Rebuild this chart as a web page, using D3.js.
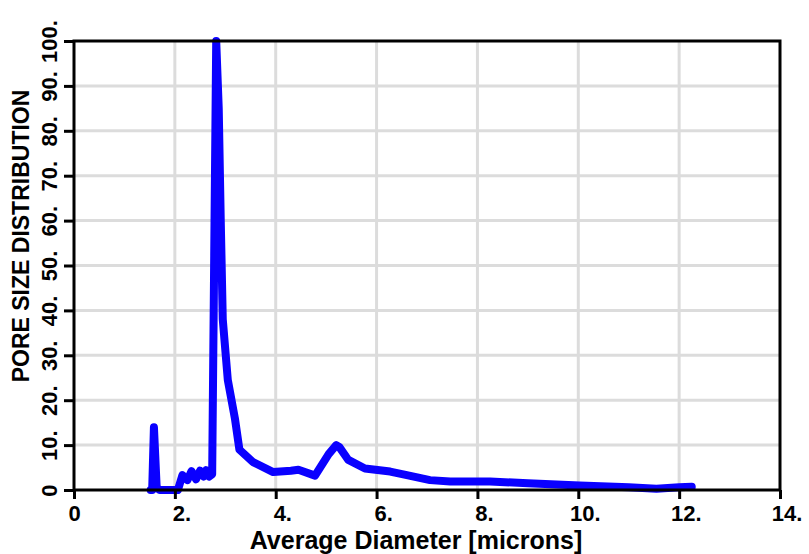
<!DOCTYPE html>
<html>
<head>
<meta charset="utf-8">
<script src="https://cdn.jsdelivr.net/npm/d3@7"></script>
<style>
  html, body { margin: 0; padding: 0; background: #fff; }
  svg text { font-family: "Liberation Sans", Arial, Helvetica, sans-serif; font-weight: bold; fill: #000; }
</style>
</head>
<body>
<svg id="chart" width="809" height="554"></svg>
<script>
// ---- data ----
const diameter = [1.52, 1.55, 1.585, 1.64, 1.70, 2.06, 2.15, 2.25, 2.33, 2.42, 2.50, 2.57, 2.62, 2.68, 2.74,
  2.82, 2.87, 2.91, 2.95, 3.05, 3.19, 3.28, 3.55, 3.95, 4.30, 4.45, 4.78, 5.05, 5.20, 5.26, 5.44, 5.77,
  6.27, 6.60, 7.06, 7.46, 8.25, 9.00, 10.03, 11.00, 11.55, 12.00, 12.25];
const distribution = [0, 0, 14, 0.5, 0, 0, 3.3, 2.2, 4.2, 2.4, 4.3, 3.0, 4.4, 3.0, 3.5,
  100, 85, 60, 38, 24.5, 16, 9, 6.2, 4.0, 4.3, 4.5, 3.2, 8, 10, 9.6, 6.7, 4.8,
  4.1, 3.3, 2.2, 1.9, 1.9, 1.5, 1.0, 0.6, 0.3, 0.6, 0.7];
const xTicks = [0, 2, 4, 6, 8, 10, 12, 14];
const xTickLabels = ["0", "2.", "4.", "6.", "8.", "10.", "12.", "14."];
const yTicks = [0, 10, 20, 30, 40, 50, 60, 70, 80, 90, 100];
const yTickLabels = ["0", "10.", "20.", "30.", "40.", "50.", "60.", "70.", "80.", "90.", "100."];
const xTitle = "Average Diameter [microns]";
const yTitle = "PORE SIZE DISTRIBUTION";

// ---- layout ----
const W = 809, H = 554;
const m = { left: 74, right: 29, top: 41, bottom: 64 };
const svg = d3.select("#chart");
const x = d3.scaleLinear().domain([0, 14]).range([m.left, W - m.right]);
const y = d3.scaleLinear().domain([0, 100]).range([H - m.bottom, m.top]);

// grid
const grid = svg.append("g").attr("stroke", "#dcdcdc").attr("stroke-width", 3);
grid.selectAll("line.gx").data(xTicks.slice(1, -1)).join("line")
  .attr("x1", d => x(d)).attr("x2", d => x(d))
  .attr("y1", y(0)).attr("y2", y(100));
grid.selectAll("line.gy").data(yTicks.slice(1, -1)).join("line")
  .attr("x1", x(0)).attr("x2", x(14))
  .attr("y1", d => y(d)).attr("y2", d => y(d));

// data line
const line = d3.line().x((d, i) => x(diameter[i])).y(d => y(d));
svg.append("path")
  .attr("d", line(distribution))
  .attr("fill", "none")
  .attr("stroke", "#0a00ff")
  .attr("stroke-width", 8)
  .attr("stroke-linejoin", "round")
  .attr("stroke-linecap", "round");

// frame
svg.append("rect")
  .attr("x", x(0)).attr("y", y(100))
  .attr("width", x(14) - x(0)).attr("height", y(0) - y(100))
  .attr("fill", "none").attr("stroke", "#000").attr("stroke-width", 3);

// bottom axis
const xAxis = d3.axisBottom(x).tickValues(xTicks)
  .tickFormat((d, i) => xTickLabels[i]).tickSize(9).tickPadding(6);
const gx = svg.append("g").attr("transform", `translate(0,${y(0)})`).call(xAxis);
gx.select(".domain").remove();
gx.selectAll(".tick line").attr("stroke", "#000").attr("stroke-width", 3);
gx.selectAll(".tick text").attr("font-size", 22)
  .attr("font-family", "Liberation Sans, Arial, sans-serif").attr("font-weight", "bold")
  .attr("fill", "#000").attr("dy", "0.72em")
  .attr("dx", (d, i) => xTickLabels[i].endsWith(".") ? "0.3em" : 0);

// left axis
const yAxis = d3.axisLeft(y).tickValues(yTicks)
  .tickFormat((d, i) => yTickLabels[i]).tickSize(10).tickPadding(6);
const gy = svg.append("g").attr("transform", `translate(${x(0)},0)`).call(yAxis);
gy.select(".domain").remove();
gy.selectAll(".tick line").attr("stroke", "#000").attr("stroke-width", 3);
gy.selectAll(".tick text")
  .attr("font-size", 22)
  .attr("font-family", "Liberation Sans, Arial, sans-serif").attr("font-weight", "bold")
  .attr("fill", "#000")
  .attr("x", null).attr("dy", null)
  .attr("text-anchor", "middle")
  .attr("transform", "translate(-17,0) rotate(-90)");

// titles
svg.append("text")
  .attr("x", 416).attr("y", 549)
  .attr("text-anchor", "middle").attr("font-size", 25)
  .text(xTitle);
svg.append("text")
  .attr("transform", `translate(29,236) rotate(-90)`)
  .attr("text-anchor", "middle").attr("font-size", 23)
  .text(yTitle);
</script>
</body>
</html>
